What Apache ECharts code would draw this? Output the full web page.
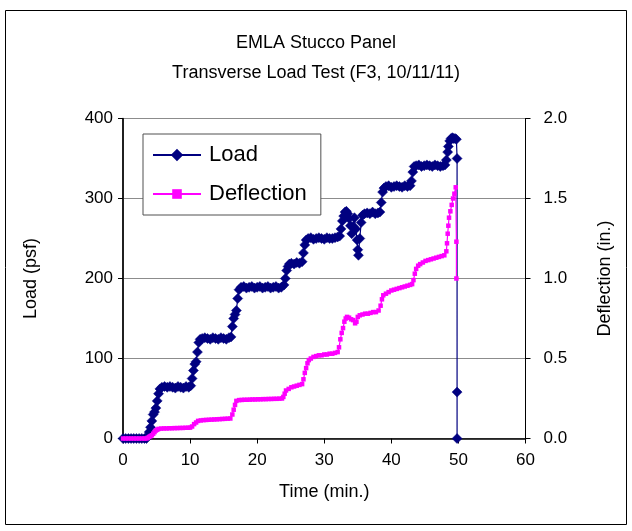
<!DOCTYPE html>
<html>
<head>
<meta charset="utf-8">
<script src="https://cdn.jsdelivr.net/npm/echarts@6/dist/echarts.min.js"></script>
<style>
html,body{margin:0;padding:0;background:#fff;}
#chart{width:632px;height:531px;}
</style>
</head>
<body>
<div id="chart"></div>
<script>
// ---- Data ----
var titleLines = ['EMLA Stucco Panel', 'Transverse Load Test (F3, 10/11/11)'];
var seriesNames = ['Load', 'Deflection'];
var xTicks = [0, 10, 20, 30, 40, 50, 60];
var loadTicks = [0, 100, 200, 300, 400];
var deflTicks = ['0.0', '0.5', '1.0', '1.5', '2.0'];

// [time (min), load (psf)]
var loadData = [
  [0,0],[0.4,0],[0.8,0],[1.2,0],[1.6,0],[2.0,0],[2.4,0],[2.8,0],[3.2,0],[3.5,0],
  [3.7,3],[3.9,8],[4.1,14],[4.3,22],[4.5,30],[4.7,33],[4.9,38],[5.1,47],[5.3,56],[5.5,62],
  [5.8,64],[6.2,65],[6.6,64],[7.0,65],[7.4,64],[7.8,63],[8.2,65],[8.6,64],[9.0,63],[9.4,65],[9.8,64],[10.1,66],
  [10.3,75],[10.5,85],[10.7,93],[10.9,96],[11.1,108],[11.3,120],[11.5,124],
  [11.8,125],[12.2,126],[12.6,125],[13.0,124],[13.4,126],[13.8,125],[14.2,124],[14.6,126],[15.0,125],[15.4,124],[15.8,126],[16.1,127],
  [16.3,140],[16.5,150],[16.7,155],[16.9,160],[17.1,175],[17.3,186],
  [17.6,189],[18.0,190],[18.4,188],[18.8,189],[19.2,190],[19.6,188],[20.0,189],[20.4,190],[20.8,188],[21.2,189],[21.6,190],[22.0,188],[22.4,189],[22.8,190],[23.2,188],[23.6,189],[24.0,192],
  [24.2,200],[24.4,210],[24.6,215],[24.8,218],
  [25.1,219],[25.5,218],[25.9,220],[26.3,219],[26.7,221],
  [26.9,232],[27.1,242],[27.3,248],
  [27.6,250],[28.0,251],[28.4,249],[28.8,250],[29.2,251],[29.6,250],[30.0,249],[30.4,251],[30.8,250],[31.2,250],[31.6,251],[32.0,252],[32.3,253],
  [32.5,262],[32.7,272],[32.9,278],[33.1,283],[33.3,284],[33.5,281],[33.7,275],[33.9,266],[34.1,256],[34.3,265],[34.5,276],[34.7,262],[34.9,248],[35.0,236],[35.1,229],[35.3,250],[35.5,270],[35.7,279],
  [36.0,281],[36.4,282],[36.8,281],[37.2,283],[37.6,281],[38.0,282],[38.3,283],
  [38.5,295],[38.7,308],[38.9,313],
  [39.2,315],[39.6,316],[40.0,314],[40.4,315],[40.8,316],[41.2,315],[41.6,314],[42.0,316],[42.4,315],[42.8,316],
  [43.0,322],[43.2,333],[43.4,340],
  [43.7,341],[44.1,342],[44.5,340],[44.9,341],[45.3,342],[45.7,341],[46.1,340],[46.5,342],[46.9,341],[47.3,340],[47.7,341],[48.0,342],
  [48.2,348],[48.4,358],[48.5,365],[48.7,372],[48.9,375],[49.1,376],[49.3,375],[49.5,375],[49.7,374],
  [49.8,350],[49.8,58],[49.8,0]
];

// [time (min), deflection (in.)]
var deflData = [
  [0,0],[0.4,0],[0.8,0],[1.2,0],[1.6,0],[2.0,0],[2.4,0],[2.8,0],[3.2,0],[3.5,0],
  [3.7,0.005],[3.9,0.01],[4.1,0.015],[4.3,0.02],[4.5,0.03],[4.7,0.04],[4.9,0.05],[5.1,0.055],[5.3,0.06],
  [5.7,0.062],[6.1,0.063],[6.5,0.063],[6.9,0.064],[7.3,0.064],[7.7,0.065],[8.1,0.065],[8.5,0.066],[8.9,0.066],[9.3,0.067],[9.7,0.067],[10.0,0.068],
  [10.3,0.075],[10.6,0.09],[10.9,0.1],[11.2,0.11],
  [11.6,0.113],[12.0,0.115],[12.4,0.116],[12.8,0.117],[13.2,0.118],[13.6,0.119],[14.0,0.12],[14.4,0.121],[14.8,0.122],[15.2,0.123],[15.6,0.124],[16.0,0.125],
  [16.3,0.15],[16.5,0.18],[16.7,0.21],[16.9,0.235],
  [17.3,0.24],[17.7,0.241],[18.1,0.242],[18.5,0.242],[18.9,0.243],[19.3,0.244],[19.7,0.244],[20.1,0.245],[20.5,0.245],[20.9,0.246],[21.3,0.246],[21.7,0.247],[22.1,0.247],[22.5,0.248],[22.9,0.248],[23.3,0.249],[23.7,0.25],
  [23.9,0.26],[24.1,0.28],[24.3,0.3],
  [24.7,0.31],[25.1,0.32],[25.5,0.325],[25.9,0.33],[26.3,0.335],[26.7,0.34],
  [26.9,0.37],[27.1,0.41],[27.3,0.44],[27.5,0.47],[27.7,0.49],
  [28.0,0.5],[28.4,0.51],[28.8,0.515],[29.2,0.52],[29.6,0.52],[30.0,0.525],[30.4,0.525],[30.8,0.53],[31.2,0.53],[31.6,0.535],[32.0,0.54],
  [32.2,0.57],[32.4,0.62],[32.6,0.66],[32.8,0.69],[33.0,0.73],[33.2,0.75],[33.4,0.76],
  [33.7,0.755],[34.0,0.745],[34.3,0.74],[34.6,0.72],[34.8,0.73],[35.0,0.76],[35.3,0.77],
  [35.7,0.775],[36.1,0.78],[36.5,0.78],[36.9,0.785],[37.3,0.79],[37.7,0.79],[38.1,0.8],
  [38.4,0.83],[38.6,0.87],[38.8,0.895],
  [39.2,0.905],[39.6,0.915],[40.0,0.925],[40.4,0.93],[40.8,0.935],[41.2,0.94],[41.6,0.945],[42.0,0.95],[42.4,0.955],[42.8,0.96],[43.1,0.965],
  [43.3,0.99],[43.5,1.03],[43.7,1.06],[44.0,1.08],[44.3,1.09],[44.7,1.1],[45.1,1.11],[45.5,1.115],[45.9,1.12],[46.3,1.125],[46.7,1.13],[47.1,1.135],[47.5,1.14],[47.9,1.145],
  [48.2,1.17],[48.3,1.22],[48.4,1.28],[48.5,1.33],[48.6,1.38],[48.8,1.42],[49.0,1.46],[49.2,1.5],[49.4,1.53],[49.6,1.57],
  [49.7,1.23],[49.7,1.0]
];

// ---- Chart ----
var FONT = "'Liberation Sans', Arial, sans-serif";
var chart = echarts.init(document.getElementById('chart'), null, {renderer: 'canvas'});
var option = {
  backgroundColor: '#ffffff',
  animation: false,
  textStyle: {fontFamily: FONT, color: '#000'},
  graphic: [{
    type: 'rect',
    shape: {x: 5.5, y: 10.5, width: 621, height: 514},
    style: {fill: 'none', stroke: '#000', lineWidth: 1},
    silent: true, z: -10
  }],
  title: {
    text: titleLines.join('\n'),
    left: 'center',
    top: 23,
    textStyle: {fontFamily: FONT, fontSize: 18, fontWeight: 'normal', color: '#000', lineHeight: 30}
  },
  legend: {
    orient: 'vertical',
    left: 143,
    top: 134,
    data: seriesNames,
    backgroundColor: '#fff',
    borderColor: '#505050',
    borderWidth: 1,
    borderRadius: 0,
    padding: [10, 14, 10, 9],
    itemGap: 17,
    itemWidth: 48,
    itemHeight: 12,
    textStyle: {fontFamily: FONT, fontSize: 22, color: '#000', lineHeight: 22, padding: [0, 0, 0, 3]}
  },
  grid: {
    left: 123, right: 106.5, top: 118.5, bottom: 92.5,
    show: true, borderColor: '#000', borderWidth: 1, backgroundColor: 'transparent',
    containLabel: false
  },
  xAxis: {
    type: 'value',
    min: xTicks[0], max: xTicks[xTicks.length - 1], interval: 10,
    name: 'Time (min.)', nameLocation: 'middle', nameGap: 45,
    nameTextStyle: {fontFamily: FONT, fontSize: 18, color: '#000'},
    axisLine: {show: true, onZero: false, lineStyle: {color: '#000', width: 1.5}},
    axisTick: {show: true, inside: false, length: 5, lineStyle: {color: '#000', width: 1}},
    axisLabel: {fontFamily: FONT, fontSize: 17, color: '#000', margin: 13},
    splitLine: {show: false}
  },
  yAxis: [{
    type: 'value', position: 'left',
    min: loadTicks[0], max: loadTicks[loadTicks.length - 1], interval: 100,
    name: 'Load (psf)', nameLocation: 'middle', nameGap: 83, nameRotate: 90,
    nameTextStyle: {fontFamily: FONT, fontSize: 18, color: '#000'},
    axisLine: {show: true, onZero: false, lineStyle: {color: '#000', width: 1.5}},
    axisTick: {show: true, inside: false, length: 5, lineStyle: {color: '#000', width: 1}},
    axisLabel: {fontFamily: FONT, fontSize: 17, color: '#000', margin: 10},
    splitLine: {show: true, lineStyle: {color: '#8c8c8c', width: 1}}
  }, {
    type: 'value', position: 'right',
    min: 0, max: 2, interval: 0.5,
    name: 'Deflection (in.)', nameLocation: 'middle', nameGap: 71, nameRotate: 90,
    nameTextStyle: {fontFamily: FONT, fontSize: 18, color: '#000'},
    axisLine: {show: true, onZero: false, lineStyle: {color: '#000', width: 1}},
    axisTick: {show: true, inside: false, length: 5, lineStyle: {color: '#000', width: 1}},
    axisLabel: {fontFamily: FONT, fontSize: 17, color: '#000', margin: 18,
      formatter: function (v) { return deflTicks[Math.round(v / 0.5)]; }},
    splitLine: {show: false}
  }],
  series: [{
    name: seriesNames[0],
    type: 'line',
    data: loadData,
    yAxisIndex: 0,
    symbol: 'diamond',
    symbolSize: 10,
    showAllSymbol: true,
    lineStyle: {color: '#000080', width: 1.2},
    itemStyle: {color: '#000080', borderColor: '#000080', borderWidth: 0.5},
    z: 2
  }, {
    name: seriesNames[1],
    type: 'line',
    data: deflData,
    yAxisIndex: 1,
    symbol: 'rect',
    symbolSize: 4.5,
    showAllSymbol: true,
    lineStyle: {color: '#ff00ff', width: 1.2},
    itemStyle: {color: '#ff00ff'},
    z: 3
  }]
};
chart.setOption(option);
</script>
</body>
</html>
